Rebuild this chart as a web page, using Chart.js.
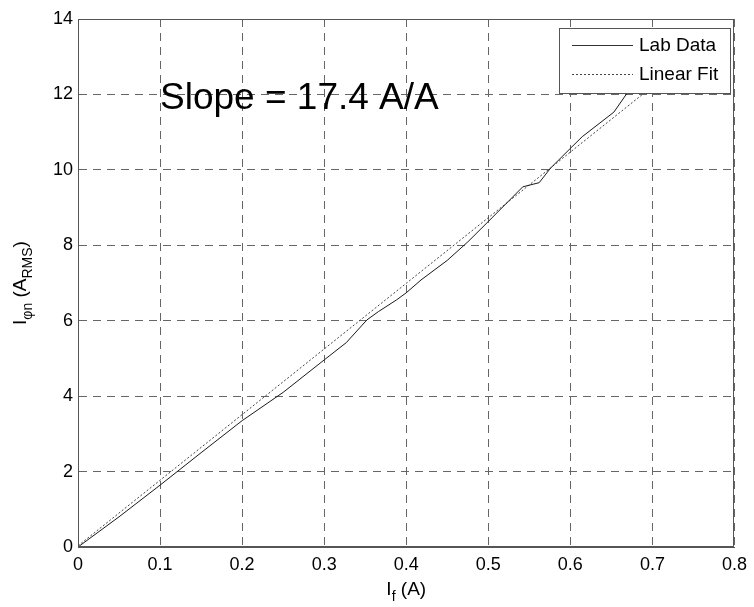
<!DOCTYPE html>
<html>
<head>
<meta charset="utf-8">
<script src="https://cdn.jsdelivr.net/npm/chart.js@4"></script>
<style>
html,body{margin:0;padding:0;background:#fff;}
canvas{display:block;}
</style>
</head>
<body>
<canvas id="c" width="754" height="607"></canvas>
<script>
// ---- data ----
const labX = [0, 0.05, 0.1, 0.15, 0.2, 0.25, 0.3, 0.327, 0.352, 0.366, 0.388, 0.4, 0.418, 0.45, 0.475, 0.5, 0.542, 0.562, 0.576, 0.6, 0.6145, 0.653, 0.669, 0.69];
const labY = [0, 0.8, 1.64, 2.5, 3.35, 4.1, 4.96, 5.42, 6.02, 6.24, 6.55, 6.74, 7.08, 7.6, 8.09, 8.63, 9.55, 9.66, 10.05, 10.57, 10.88, 11.53, 12.03, 12.6];
const fitX = [0, 0.72];
const fitY = [0.03, 12.56];
const xTickLabels = ['0', '0.1', '0.2', '0.3', '0.4', '0.5', '0.6', '0.7', '0.8'];
const yTickLabels = ['0', '2', '4', '6', '8', '10', '12', '14'];
const seriesNames = ['Lab Data', 'Linear Fit'];
const slopeText = 'Slope = 17.4 A/A';

const FONT = '"Liberation Sans", Arial, Helvetica, sans-serif';

function pts(xs, ys) { return xs.map((x, i) => ({x: x, y: ys[i]})); }

function drawRich(ctx, parts, x, y, align) {
  const mainSize = 19, subSize = 14;
  let total = 0;
  parts.forEach(p => {
    ctx.font = (p.sub ? subSize : mainSize) + 'px ' + FONT;
    p.w = ctx.measureText(p.t).width;
    total += p.w;
  });
  let cx = align === 'center' ? x - total / 2 : x;
  ctx.textBaseline = 'alphabetic';
  ctx.textAlign = 'left';
  parts.forEach(p => {
    ctx.font = (p.sub ? subSize : mainSize) + 'px ' + FONT;
    ctx.fillText(p.t, cx, y + (p.sub ? 6 : 0));
    cx += p.w;
  });
}

const decor = {
  id: 'decor',
  beforeDraw(chart) {
    const ctx = chart.ctx;
    ctx.save();
    ctx.fillStyle = '#fff';
    ctx.fillRect(0, 0, chart.width, chart.height);
    ctx.restore();
  },
  afterDatasetsDraw(chart) {
    const ctx = chart.ctx;
    const a = chart.chartArea;
    ctx.save();
    ctx.strokeStyle = '#555';
    ctx.lineWidth = 1;
    ctx.setLineDash([]);
    ctx.strokeRect(Math.round(a.left) + 0.5, Math.round(a.top) + 0.5, Math.round(a.right - a.left) - 1, Math.round(a.bottom - a.top) - 1);
    // legend box
    const lx = 559, ly = 28, lw = 171, lh = 65;
    ctx.fillStyle = '#fff';
    ctx.fillRect(lx, ly, lw, lh);
    ctx.strokeStyle = '#555';
    ctx.strokeRect(lx + 0.5, ly + 0.5, lw, lh);
    ctx.lineWidth = 1;
    ctx.strokeStyle = '#333';
    ctx.beginPath();
    ctx.moveTo(572, 45.5); ctx.lineTo(633, 45.5);
    ctx.stroke();
    ctx.setLineDash([2, 2]);
    ctx.strokeStyle = '#444';
    ctx.beginPath();
    ctx.moveTo(572, 74.5); ctx.lineTo(633, 74.5);
    ctx.stroke();
    ctx.setLineDash([]);
    ctx.fillStyle = '#000';
    ctx.font = '19px ' + FONT;
    ctx.textBaseline = 'middle';
    ctx.textAlign = 'left';
    ctx.fillText(seriesNames[0], 639, 46);
    ctx.fillText(seriesNames[1], 639, 75);
    ctx.restore();
  },
  afterDraw(chart) {
    const ctx = chart.ctx;
    const a = chart.chartArea;
    ctx.save();
    ctx.fillStyle = '#000';
    ctx.font = '37px ' + FONT;
    ctx.textBaseline = 'alphabetic';
    ctx.textAlign = 'left';
    ctx.fillText(slopeText, 160, 109);
    drawRich(ctx, [{t: 'I'}, {t: 'f', sub: true}, {t: ' (A)'}], (a.left + a.right) / 2, 595, 'center');
    ctx.translate(26, (a.top + a.bottom) / 2);
    ctx.rotate(-Math.PI / 2);
    drawRich(ctx, [{t: 'I'}, {t: '\u03c6n', sub: true}, {t: ' (A'}, {t: 'RMS', sub: true}, {t: ')'}], 0, 0, 'center');
    ctx.restore();
  }
};

const gridCommon = {
  color: '#666',
  lineWidth: 1,
  drawTicks: false
};

new Chart(document.getElementById('c'), {
  type: 'scatter',
  data: {
    datasets: [
      {
        label: seriesNames[0],
        data: pts(labX, labY),
        showLine: true,
        borderColor: '#1a1a1a',
        borderWidth: 1,
        pointRadius: 0,
        tension: 0,
        fill: false
      },
      {
        label: seriesNames[1],
        data: pts(fitX, fitY),
        showLine: true,
        borderColor: '#444',
        borderWidth: 1,
        borderDash: [2, 2],
        pointRadius: 0,
        tension: 0,
        fill: false
      }
    ]
  },
  options: {
    responsive: false,
    animation: false,
    devicePixelRatio: 1,
    layout: {padding: {top: 19, right: 16, left: 0, bottom: 0}},
    plugins: {legend: {display: false}, tooltip: {enabled: false}},
    scales: {
      x: {
        type: 'linear',
        min: 0, max: 0.8,
        afterFit(s) { s.height = 60; },
        afterBuildTicks(s) { s.ticks = xTickLabels.map(v => ({value: parseFloat(v)})); },
        ticks: {
          padding: 7,
          color: '#000',
          font: {family: FONT, size: 18},
          maxRotation: 0,
          autoSkip: false,
          callback: (v, i) => xTickLabels[i]
        },
        grid: gridCommon,
        border: {display: true, color: '#555', width: 1, dash: [8, 6]}
      },
      y: {
        type: 'linear',
        min: 0, max: 14,
        afterFit(s) { s.width = 78; },
        afterBuildTicks(s) { s.ticks = yTickLabels.map(v => ({value: parseFloat(v)})); },
        ticks: {
          padding: 5,
          color: '#000',
          font: {family: FONT, size: 18},
          autoSkip: false,
          callback: (v, i) => yTickLabels[i]
        },
        grid: gridCommon,
        border: {display: true, color: '#555', width: 1, dash: [8, 6]}
      }
    }
  },
  plugins: [decor]
});
</script>
</body>
</html>
